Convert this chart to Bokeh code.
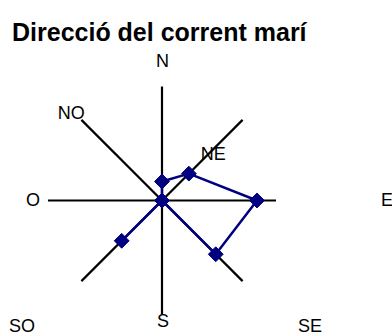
import numpy as np
from bokeh.plotting import figure
from bokeh.models import ColumnDataSource, Label
from bokeh.core.properties import value
from bokeh.embed import file_html
from bokeh.resources import INLINE

# ---- data ----
directions = ["N", "NE", "E", "SE", "S", "SO", "O", "NO"]
values = [1, 2, 5, 4, 0, 3, 0, 0]
axis_max = 6
title_text = "Direcció del corrent marí"

# ---- layout (pixels) ----
W, H = 392, 336
cx, cy = 161.5, 200.0          # centre in canvas px (from top)
radius_px = 114.0
ppu = radius_px / axis_max       # pixels per data unit
# label offsets from centre, px (dx right, dy up)
label_dx = [0.5, 51.3, 225.0, 148.0, 1.0, -140.0, -129.0, -90.7]
label_dy = [140.0, 46.7, 1.0, -125.0, -120.0, -125.5, 1.0, 87.5]

x0 = -cx / ppu
x1 = (W - cx) / ppu
y0 = -(H - cy) / ppu
y1 = cy / ppu

p = figure(width=W, height=H, x_range=(x0, x1), y_range=(y0, y1),
           output_backend="svg", toolbar_location=None, min_border=0,
           outline_line_color=None, background_fill_color="white",
           border_fill_color="white")
p.axis.visible = False
p.grid.visible = False

n = len(directions)
angles = [np.pi / 2 - i * 2 * np.pi / n for i in range(n)]

# spokes
xs = [[0, axis_max * np.cos(a)] for a in angles]
ys = [[0, axis_max * np.sin(a)] for a in angles]
p.multi_line(xs, ys, line_color="black", line_width=2.2)

# series
px = [v * np.cos(a) for v, a in zip(values, angles)]
py = [v * np.sin(a) for v, a in zip(values, angles)]
p.line(px + [px[0]], py + [py[0]], line_color="#000080", line_width=2.5)
p.scatter(px, py, marker="square", size=10.5, angle=np.pi / 4,
          fill_color="#000080", line_color="#000080")

# direction labels
lsrc = ColumnDataSource(dict(
    x=[d / ppu for d in label_dx],
    y=[d / ppu for d in label_dy],
    t=directions))
p.text("x", "y", text="t", source=lsrc, text_align="center",
       text_baseline="middle", text_font=value("Liberation Sans"),
       text_font_size="18px", text_color="black")

# title
p.add_layout(Label(x=11.5, y=H - 31, x_units="screen", y_units="screen",
                   text=title_text, text_font="Liberation Sans",
                   text_font_style="bold", text_font_size="25px",
                   text_baseline="alphabetic", text_color="black"))

open("out.html", "w").write(file_html(p, INLINE))
